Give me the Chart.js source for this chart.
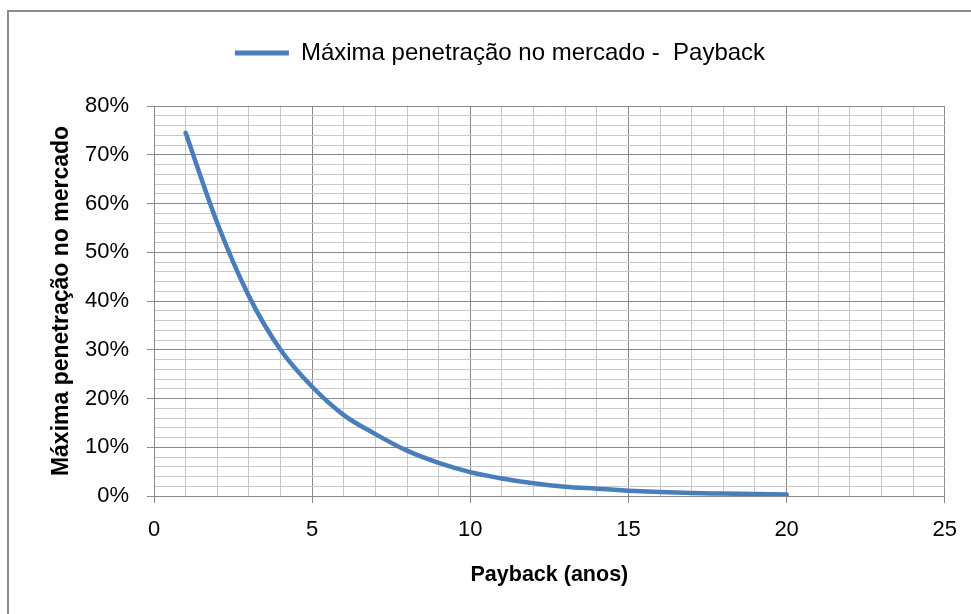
<!DOCTYPE html>
<html><head><meta charset="utf-8">
<script src="https://cdn.jsdelivr.net/npm/chart.js@4/dist/chart.umd.min.js"></script>
<style>
html,body{margin:0;padding:0;background:#fff;overflow:hidden;}
#wrap{position:relative;width:971px;height:614px;}
#frame{position:absolute;left:7px;top:10px;width:990px;height:640px;border:2px solid #8c8c8c;box-sizing:border-box;}
canvas{position:absolute;left:0;top:0;}
</style></head><body>
<div id="wrap"><div id="frame"></div><canvas id="c" width="971" height="614"></canvas></div>
<script>
const paybackYears = [1, 2, 3, 4, 5, 6, 7, 8, 9, 10, 11, 12, 13, 14, 15, 16, 17, 18, 19, 20];
const penetration = [74.5, 56, 41, 30, 22.4, 16.6, 12.7, 9.3, 6.8, 4.9, 3.6, 2.6, 1.9, 1.5, 1.1, 0.8, 0.6, 0.5, 0.4, 0.3];
const xTickLabels = [0, 5, 10, 15, 20, 25];
const yTickLabels = [0, 10, 20, 30, 40, 50, 60, 70, 80];
const seriesLabel = 'Máxima penetração no mercado -  Payback';
const xTitle = 'Payback (anos)';
const yTitle = 'Máxima penetração no mercado';

const FONT = "'Liberation Sans', Arial, sans-serif";
const LINE = '#4A7EBB';
const MAJOR = '#8a8a8a';
const MINOR = '#c9c9c9';

const points = paybackYears.map((x, i) => ({x: x, y: penetration[i]}));

new Chart(document.getElementById('c'), {
  type: 'line',
  data: {
    datasets: [{
      label: seriesLabel,
      data: points,
      borderColor: LINE,
      backgroundColor: LINE,
      borderWidth: 4.5,
      pointRadius: 0,
      pointHoverRadius: 0,
      fill: false,
      tension: 0.4,
      cubicInterpolationMode: 'monotone',
      borderCapStyle: 'round'
    }]
  },
  options: {
    responsive: false,
    devicePixelRatio: 1,
    animation: false,
    events: [],
    layout: {padding: {left: 46, right: 17, top: 31, bottom: 0}},
    plugins: {
      tooltip: {enabled: false},
      legend: {
        display: true,
        position: 'top',
        align: 'center',
        labels: {
          font: {family: FONT, size: 24},
          color: '#000',
          padding: 10,
          boxWidth: 54,
          boxHeight: 5,
          generateLabels: (chart) => Chart.defaults.plugins.legend.labels.generateLabels(chart)
            .map(l => Object.assign(l, {fillStyle: LINE, lineWidth: 0, strokeStyle: LINE}))
        }
      }
    },
    scales: {
      x: {
        type: 'linear',
        position: 'bottom',
        min: 0, max: 25,
        afterFit: (s) => { s.height = 118; },
        ticks: {
          stepSize: 1,
          autoSkip: false,
          maxRotation: 0,
          padding: 14,
          color: '#000',
          font: {family: FONT, size: 22},
          callback: (v) => xTickLabels.includes(v) ? String(v) : ''
        },
        grid: {
          color: (c) => (c.tick && xTickLabels.includes(c.tick.value)) ? MAJOR : MINOR,
          tickColor: (c) => (c.tick && xTickLabels.includes(c.tick.value)) ? MAJOR : 'rgba(0,0,0,0)',
          tickLength: 7,
          lineWidth: 1
        },
        border: {color: MAJOR, width: 1},
        title: {
          display: true,
          text: xTitle,
          color: '#000',
          font: {family: FONT, size: 21.5, weight: 'bold'},
          padding: {top: 0, bottom: 26}
        }
      },
      xTopSpacer: {
        type: 'linear',
        position: 'top',
        display: true,
        afterFit: (s) => { s.height = 31; },
        grid: {display: false, drawTicks: false},
        ticks: {display: false},
        border: {display: false}
      },
      y: {
        type: 'linear',
        position: 'left',
        min: 0, max: 80,
        afterFit: (s) => { s.width = 154 - 46; },
        ticks: {
          stepSize: 2,
          autoSkip: false,
          padding: 18,
          color: '#000',
          font: {family: FONT, size: 22},
          callback: (v) => yTickLabels.includes(v) ? v + '%' : ''
        },
        grid: {
          color: (c) => (c.tick && yTickLabels.includes(c.tick.value)) ? MAJOR : MINOR,
          tickColor: (c) => (c.tick && yTickLabels.includes(c.tick.value)) ? MAJOR : 'rgba(0,0,0,0)',
          tickLength: 7,
          lineWidth: 1
        },
        border: {color: MAJOR, width: 1},
        title: {
          display: true,
          text: yTitle,
          color: '#000',
          font: {family: FONT, size: 23, weight: 'bold'},
          padding: {top: 2, bottom: 0}
        }
      }
    }
  }
});
</script>
</body></html>
